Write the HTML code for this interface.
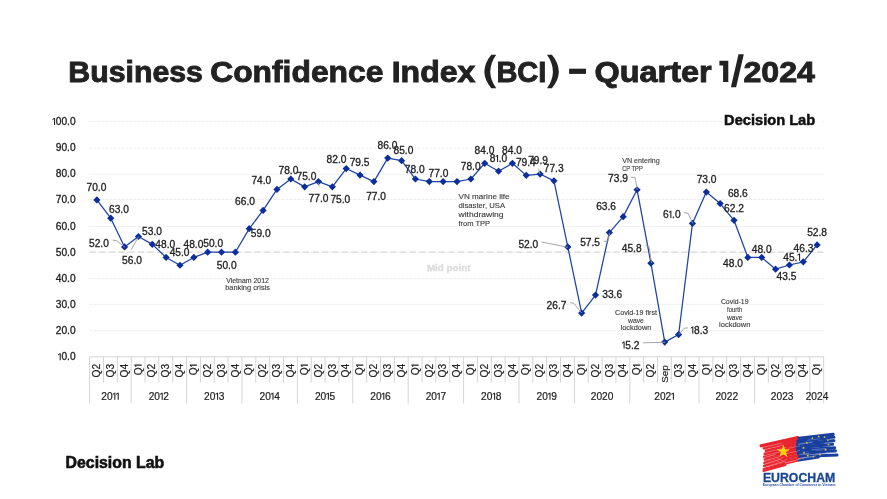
<!DOCTYPE html><html><head><meta charset="utf-8"><title>BCI</title>
<style>html,body{margin:0;padding:0;background:#fff}body{width:887px;height:499px;overflow:hidden}svg{display:block;will-change:transform}text{font-family:"Liberation Sans",sans-serif}</style></head><body>
<svg width="887" height="499" viewBox="0 0 887 499">
<rect width="887" height="499" fill="#fff"/>
<g font-size="29.5" font-weight="bold" fill="#222" stroke="#222" stroke-width="0.9">
<text x="68.3" y="81.6" textLength="134.6" lengthAdjust="spacingAndGlyphs">Business</text>
<text x="210.2" y="81.6" textLength="173.2" lengthAdjust="spacingAndGlyphs">Confidence</text>
<text x="391.7" y="81.6" textLength="83.7" lengthAdjust="spacingAndGlyphs">Index</text>
<text x="496.4" y="81.6" textLength="50.0" lengthAdjust="spacingAndGlyphs">BCI</text>
<text x="594.5" y="81.6" textLength="117.2" lengthAdjust="spacingAndGlyphs">Quarter</text>
<text x="743.4" y="81.6" textLength="71.6" lengthAdjust="spacingAndGlyphs">2024</text>
</g>
<path d="M496.2 54.7Q484.4 71.5 496.2 88.3L491.3 88.3Q477.5 71.5 491.3 54.7Z" fill="#222"/>
<path d="M547 54.7Q558.8 71.5 547 88.3L551.9 88.3Q565.7 71.5 551.9 54.7Z" fill="#222"/>
<rect x="569.1" y="68.7" width="16.9" height="5.2" fill="#222"/>
<path d="M719.4 60.8L728.3 60.8L728.3 82.1L723.1 82.1L723.1 65.5L719.4 65.5Z" fill="#222"/>
<path d="M738.5 54.2L743.8 54.2L736.1 87.2L730.9 87.2Z" fill="#222"/>
<g stroke="#ededed" stroke-width="1" stroke-dasharray="3 1" fill="none">
<line x1="89.6" y1="121.50" x2="824.2" y2="121.50"/>
<line x1="89.6" y1="148.20" x2="824.2" y2="148.20"/>
<line x1="89.6" y1="174.20" x2="824.2" y2="174.20"/>
<line x1="89.6" y1="199.50" x2="824.2" y2="199.50"/>
<line x1="89.6" y1="226.60" x2="824.2" y2="226.60"/>
<line x1="89.6" y1="278.60" x2="824.2" y2="278.60"/>
<line x1="89.6" y1="304.30" x2="824.2" y2="304.30"/>
<line x1="89.6" y1="330.80" x2="824.2" y2="330.80"/>
</g>
<line x1="89.6" y1="252.20" x2="824.2" y2="252.20" stroke="#ededed" stroke-width="1" stroke-dasharray="3 1"/>
<line x1="89.6" y1="252.10" x2="824.2" y2="252.10" stroke="#d0d0d0" stroke-width="1" stroke-dasharray="6 3.7"/>
<g stroke="#d4d4d4" stroke-width="1" fill="none">
<line x1="89.6" y1="356.8" x2="823.7" y2="356.8"/>
<line x1="89.60" y1="356.8" x2="89.60" y2="403.4"/>
<line x1="103.45" y1="356.8" x2="103.45" y2="382.6"/>
<line x1="117.30" y1="356.8" x2="117.30" y2="382.6"/>
<line x1="131.15" y1="356.8" x2="131.15" y2="403.4"/>
<line x1="145.00" y1="356.8" x2="145.00" y2="382.6"/>
<line x1="158.85" y1="356.8" x2="158.85" y2="382.6"/>
<line x1="172.71" y1="356.8" x2="172.71" y2="382.6"/>
<line x1="186.56" y1="356.8" x2="186.56" y2="403.4"/>
<line x1="200.41" y1="356.8" x2="200.41" y2="382.6"/>
<line x1="214.26" y1="356.8" x2="214.26" y2="382.6"/>
<line x1="228.11" y1="356.8" x2="228.11" y2="382.6"/>
<line x1="241.96" y1="356.8" x2="241.96" y2="403.4"/>
<line x1="255.81" y1="356.8" x2="255.81" y2="382.6"/>
<line x1="269.66" y1="356.8" x2="269.66" y2="382.6"/>
<line x1="283.51" y1="356.8" x2="283.51" y2="382.6"/>
<line x1="297.36" y1="356.8" x2="297.36" y2="403.4"/>
<line x1="311.22" y1="356.8" x2="311.22" y2="382.6"/>
<line x1="325.07" y1="356.8" x2="325.07" y2="382.6"/>
<line x1="338.92" y1="356.8" x2="338.92" y2="382.6"/>
<line x1="352.77" y1="356.8" x2="352.77" y2="403.4"/>
<line x1="366.62" y1="356.8" x2="366.62" y2="382.6"/>
<line x1="380.47" y1="356.8" x2="380.47" y2="382.6"/>
<line x1="394.32" y1="356.8" x2="394.32" y2="382.6"/>
<line x1="408.17" y1="356.8" x2="408.17" y2="403.4"/>
<line x1="422.02" y1="356.8" x2="422.02" y2="382.6"/>
<line x1="435.87" y1="356.8" x2="435.87" y2="382.6"/>
<line x1="449.72" y1="356.8" x2="449.72" y2="382.6"/>
<line x1="463.58" y1="356.8" x2="463.58" y2="403.4"/>
<line x1="477.43" y1="356.8" x2="477.43" y2="382.6"/>
<line x1="491.28" y1="356.8" x2="491.28" y2="382.6"/>
<line x1="505.13" y1="356.8" x2="505.13" y2="382.6"/>
<line x1="518.98" y1="356.8" x2="518.98" y2="403.4"/>
<line x1="532.83" y1="356.8" x2="532.83" y2="382.6"/>
<line x1="546.68" y1="356.8" x2="546.68" y2="382.6"/>
<line x1="560.53" y1="356.8" x2="560.53" y2="382.6"/>
<line x1="574.38" y1="356.8" x2="574.38" y2="403.4"/>
<line x1="588.23" y1="356.8" x2="588.23" y2="382.6"/>
<line x1="602.08" y1="356.8" x2="602.08" y2="382.6"/>
<line x1="615.94" y1="356.8" x2="615.94" y2="382.6"/>
<line x1="629.79" y1="356.8" x2="629.79" y2="403.4"/>
<line x1="643.64" y1="356.8" x2="643.64" y2="382.6"/>
<line x1="657.49" y1="356.8" x2="657.49" y2="382.6"/>
<line x1="671.34" y1="356.8" x2="671.34" y2="382.6"/>
<line x1="685.19" y1="356.8" x2="685.19" y2="382.6"/>
<line x1="699.04" y1="356.8" x2="699.04" y2="403.4"/>
<line x1="712.89" y1="356.8" x2="712.89" y2="382.6"/>
<line x1="726.74" y1="356.8" x2="726.74" y2="382.6"/>
<line x1="740.59" y1="356.8" x2="740.59" y2="382.6"/>
<line x1="754.45" y1="356.8" x2="754.45" y2="403.4"/>
<line x1="768.30" y1="356.8" x2="768.30" y2="382.6"/>
<line x1="782.15" y1="356.8" x2="782.15" y2="382.6"/>
<line x1="796.00" y1="356.8" x2="796.00" y2="382.6"/>
<line x1="809.85" y1="356.8" x2="809.85" y2="403.4"/>
<line x1="823.70" y1="356.8" x2="823.70" y2="403.4"/>
</g>
<g fill="#222" stroke="#222" stroke-width="0.3">
<path d="M52.54 119.08L54.07 117.88L55.09 117.88L55.09 125.05L54.02 125.05L54.02 119.08L52.54 120.15Z" stroke="none"/><text x="55.75" y="125.05" font-size="10.2" textLength="19.85" lengthAdjust="spacingAndGlyphs">00.0</text>
<text x="55.75" y="151.19" font-size="10.2" textLength="19.85" lengthAdjust="spacingAndGlyphs">90.0</text>
<text x="55.75" y="177.33" font-size="10.2" textLength="19.85" lengthAdjust="spacingAndGlyphs">80.0</text>
<text x="55.75" y="203.47" font-size="10.2" textLength="19.85" lengthAdjust="spacingAndGlyphs">70.0</text>
<text x="55.75" y="229.61" font-size="10.2" textLength="19.85" lengthAdjust="spacingAndGlyphs">60.0</text>
<text x="55.75" y="255.75" font-size="10.2" textLength="19.85" lengthAdjust="spacingAndGlyphs">50.0</text>
<text x="55.75" y="281.89" font-size="10.2" textLength="19.85" lengthAdjust="spacingAndGlyphs">40.0</text>
<text x="55.75" y="308.03" font-size="10.2" textLength="19.85" lengthAdjust="spacingAndGlyphs">30.0</text>
<text x="55.75" y="334.17" font-size="10.2" textLength="19.85" lengthAdjust="spacingAndGlyphs">20.0</text>
<path d="M58.21 354.34L59.74 353.14L60.76 353.14L60.76 360.31L59.69 360.31L59.69 354.34L58.21 355.41Z" stroke="none"/><text x="61.42" y="360.31" font-size="10.2" textLength="14.18" lengthAdjust="spacingAndGlyphs">0.0</text>
</g>
<g fill="#222" stroke="#222" stroke-width="0.2">
<g transform="translate(100.08,363.9) rotate(-90)"><text x="-13.61" y="0.00" font-size="10.2" textLength="13.61" lengthAdjust="spacingAndGlyphs">Q2</text></g>
<g transform="translate(113.93,363.9) rotate(-90)"><text x="-13.61" y="0.00" font-size="10.2" textLength="13.61" lengthAdjust="spacingAndGlyphs">Q3</text></g>
<g transform="translate(127.78,363.9) rotate(-90)"><text x="-13.61" y="0.00" font-size="10.2" textLength="13.61" lengthAdjust="spacingAndGlyphs">Q4</text></g>
<g transform="translate(141.63,363.9) rotate(-90)"><text x="-11.30" y="0.00" font-size="10.2" textLength="7.94" lengthAdjust="spacingAndGlyphs">Q</text><path d="M-3.21 -5.97L-1.68 -7.17L-0.66 -7.17L-0.66 0.00L-1.73 0.00L-1.73 -5.97L-3.21 -4.90Z" stroke="none"/></g>
<g transform="translate(155.48,363.9) rotate(-90)"><text x="-13.61" y="0.00" font-size="10.2" textLength="13.61" lengthAdjust="spacingAndGlyphs">Q2</text></g>
<g transform="translate(169.33,363.9) rotate(-90)"><text x="-13.61" y="0.00" font-size="10.2" textLength="13.61" lengthAdjust="spacingAndGlyphs">Q3</text></g>
<g transform="translate(183.18,363.9) rotate(-90)"><text x="-13.61" y="0.00" font-size="10.2" textLength="13.61" lengthAdjust="spacingAndGlyphs">Q4</text></g>
<g transform="translate(197.03,363.9) rotate(-90)"><text x="-11.30" y="0.00" font-size="10.2" textLength="7.94" lengthAdjust="spacingAndGlyphs">Q</text><path d="M-3.21 -5.97L-1.68 -7.17L-0.66 -7.17L-0.66 0.00L-1.73 0.00L-1.73 -5.97L-3.21 -4.90Z" stroke="none"/></g>
<g transform="translate(210.88,363.9) rotate(-90)"><text x="-13.61" y="0.00" font-size="10.2" textLength="13.61" lengthAdjust="spacingAndGlyphs">Q2</text></g>
<g transform="translate(224.73,363.9) rotate(-90)"><text x="-13.61" y="0.00" font-size="10.2" textLength="13.61" lengthAdjust="spacingAndGlyphs">Q3</text></g>
<g transform="translate(238.58,363.9) rotate(-90)"><text x="-13.61" y="0.00" font-size="10.2" textLength="13.61" lengthAdjust="spacingAndGlyphs">Q4</text></g>
<g transform="translate(252.44,363.9) rotate(-90)"><text x="-11.30" y="0.00" font-size="10.2" textLength="7.94" lengthAdjust="spacingAndGlyphs">Q</text><path d="M-3.21 -5.97L-1.68 -7.17L-0.66 -7.17L-0.66 0.00L-1.73 0.00L-1.73 -5.97L-3.21 -4.90Z" stroke="none"/></g>
<g transform="translate(266.29,363.9) rotate(-90)"><text x="-13.61" y="0.00" font-size="10.2" textLength="13.61" lengthAdjust="spacingAndGlyphs">Q2</text></g>
<g transform="translate(280.14,363.9) rotate(-90)"><text x="-13.61" y="0.00" font-size="10.2" textLength="13.61" lengthAdjust="spacingAndGlyphs">Q3</text></g>
<g transform="translate(293.99,363.9) rotate(-90)"><text x="-13.61" y="0.00" font-size="10.2" textLength="13.61" lengthAdjust="spacingAndGlyphs">Q4</text></g>
<g transform="translate(307.84,363.9) rotate(-90)"><text x="-11.30" y="0.00" font-size="10.2" textLength="7.94" lengthAdjust="spacingAndGlyphs">Q</text><path d="M-3.21 -5.97L-1.68 -7.17L-0.66 -7.17L-0.66 0.00L-1.73 0.00L-1.73 -5.97L-3.21 -4.90Z" stroke="none"/></g>
<g transform="translate(321.69,363.9) rotate(-90)"><text x="-13.61" y="0.00" font-size="10.2" textLength="13.61" lengthAdjust="spacingAndGlyphs">Q2</text></g>
<g transform="translate(335.54,363.9) rotate(-90)"><text x="-13.61" y="0.00" font-size="10.2" textLength="13.61" lengthAdjust="spacingAndGlyphs">Q3</text></g>
<g transform="translate(349.39,363.9) rotate(-90)"><text x="-13.61" y="0.00" font-size="10.2" textLength="13.61" lengthAdjust="spacingAndGlyphs">Q4</text></g>
<g transform="translate(363.24,363.9) rotate(-90)"><text x="-11.30" y="0.00" font-size="10.2" textLength="7.94" lengthAdjust="spacingAndGlyphs">Q</text><path d="M-3.21 -5.97L-1.68 -7.17L-0.66 -7.17L-0.66 0.00L-1.73 0.00L-1.73 -5.97L-3.21 -4.90Z" stroke="none"/></g>
<g transform="translate(377.09,363.9) rotate(-90)"><text x="-13.61" y="0.00" font-size="10.2" textLength="13.61" lengthAdjust="spacingAndGlyphs">Q2</text></g>
<g transform="translate(390.95,363.9) rotate(-90)"><text x="-13.61" y="0.00" font-size="10.2" textLength="13.61" lengthAdjust="spacingAndGlyphs">Q3</text></g>
<g transform="translate(404.80,363.9) rotate(-90)"><text x="-13.61" y="0.00" font-size="10.2" textLength="13.61" lengthAdjust="spacingAndGlyphs">Q4</text></g>
<g transform="translate(418.65,363.9) rotate(-90)"><text x="-11.30" y="0.00" font-size="10.2" textLength="7.94" lengthAdjust="spacingAndGlyphs">Q</text><path d="M-3.21 -5.97L-1.68 -7.17L-0.66 -7.17L-0.66 0.00L-1.73 0.00L-1.73 -5.97L-3.21 -4.90Z" stroke="none"/></g>
<g transform="translate(432.50,363.9) rotate(-90)"><text x="-13.61" y="0.00" font-size="10.2" textLength="13.61" lengthAdjust="spacingAndGlyphs">Q2</text></g>
<g transform="translate(446.35,363.9) rotate(-90)"><text x="-13.61" y="0.00" font-size="10.2" textLength="13.61" lengthAdjust="spacingAndGlyphs">Q3</text></g>
<g transform="translate(460.20,363.9) rotate(-90)"><text x="-13.61" y="0.00" font-size="10.2" textLength="13.61" lengthAdjust="spacingAndGlyphs">Q4</text></g>
<g transform="translate(474.05,363.9) rotate(-90)"><text x="-11.30" y="0.00" font-size="10.2" textLength="7.94" lengthAdjust="spacingAndGlyphs">Q</text><path d="M-3.21 -5.97L-1.68 -7.17L-0.66 -7.17L-0.66 0.00L-1.73 0.00L-1.73 -5.97L-3.21 -4.90Z" stroke="none"/></g>
<g transform="translate(487.90,363.9) rotate(-90)"><text x="-13.61" y="0.00" font-size="10.2" textLength="13.61" lengthAdjust="spacingAndGlyphs">Q2</text></g>
<g transform="translate(501.75,363.9) rotate(-90)"><text x="-13.61" y="0.00" font-size="10.2" textLength="13.61" lengthAdjust="spacingAndGlyphs">Q3</text></g>
<g transform="translate(515.60,363.9) rotate(-90)"><text x="-13.61" y="0.00" font-size="10.2" textLength="13.61" lengthAdjust="spacingAndGlyphs">Q4</text></g>
<g transform="translate(529.45,363.9) rotate(-90)"><text x="-11.30" y="0.00" font-size="10.2" textLength="7.94" lengthAdjust="spacingAndGlyphs">Q</text><path d="M-3.21 -5.97L-1.68 -7.17L-0.66 -7.17L-0.66 0.00L-1.73 0.00L-1.73 -5.97L-3.21 -4.90Z" stroke="none"/></g>
<g transform="translate(543.31,363.9) rotate(-90)"><text x="-13.61" y="0.00" font-size="10.2" textLength="13.61" lengthAdjust="spacingAndGlyphs">Q2</text></g>
<g transform="translate(557.16,363.9) rotate(-90)"><text x="-13.61" y="0.00" font-size="10.2" textLength="13.61" lengthAdjust="spacingAndGlyphs">Q3</text></g>
<g transform="translate(571.01,363.9) rotate(-90)"><text x="-13.61" y="0.00" font-size="10.2" textLength="13.61" lengthAdjust="spacingAndGlyphs">Q4</text></g>
<g transform="translate(584.86,363.9) rotate(-90)"><text x="-11.30" y="0.00" font-size="10.2" textLength="7.94" lengthAdjust="spacingAndGlyphs">Q</text><path d="M-3.21 -5.97L-1.68 -7.17L-0.66 -7.17L-0.66 0.00L-1.73 0.00L-1.73 -5.97L-3.21 -4.90Z" stroke="none"/></g>
<g transform="translate(598.71,363.9) rotate(-90)"><text x="-13.61" y="0.00" font-size="10.2" textLength="13.61" lengthAdjust="spacingAndGlyphs">Q2</text></g>
<g transform="translate(612.56,363.9) rotate(-90)"><text x="-13.61" y="0.00" font-size="10.2" textLength="13.61" lengthAdjust="spacingAndGlyphs">Q3</text></g>
<g transform="translate(626.41,363.9) rotate(-90)"><text x="-13.61" y="0.00" font-size="10.2" textLength="13.61" lengthAdjust="spacingAndGlyphs">Q4</text></g>
<g transform="translate(640.26,363.9) rotate(-90)"><text x="-11.30" y="0.00" font-size="10.2" textLength="7.94" lengthAdjust="spacingAndGlyphs">Q</text><path d="M-3.21 -5.97L-1.68 -7.17L-0.66 -7.17L-0.66 0.00L-1.73 0.00L-1.73 -5.97L-3.21 -4.90Z" stroke="none"/></g>
<g transform="translate(654.11,363.9) rotate(-90)"><text x="-13.61" y="0.00" font-size="10.2" textLength="13.61" lengthAdjust="spacingAndGlyphs">Q2</text></g>
<g transform="translate(667.96,365.2) rotate(-90)"><text x="-17.61" y="0.00" font-size="9.9" textLength="17.61" lengthAdjust="spacingAndGlyphs">Sep</text></g>
<g transform="translate(681.82,363.9) rotate(-90)"><text x="-13.61" y="0.00" font-size="10.2" textLength="13.61" lengthAdjust="spacingAndGlyphs">Q3</text></g>
<g transform="translate(695.67,363.9) rotate(-90)"><text x="-13.61" y="0.00" font-size="10.2" textLength="13.61" lengthAdjust="spacingAndGlyphs">Q4</text></g>
<g transform="translate(709.52,363.9) rotate(-90)"><text x="-11.30" y="0.00" font-size="10.2" textLength="7.94" lengthAdjust="spacingAndGlyphs">Q</text><path d="M-3.21 -5.97L-1.68 -7.17L-0.66 -7.17L-0.66 0.00L-1.73 0.00L-1.73 -5.97L-3.21 -4.90Z" stroke="none"/></g>
<g transform="translate(723.37,363.9) rotate(-90)"><text x="-13.61" y="0.00" font-size="10.2" textLength="13.61" lengthAdjust="spacingAndGlyphs">Q2</text></g>
<g transform="translate(737.22,363.9) rotate(-90)"><text x="-13.61" y="0.00" font-size="10.2" textLength="13.61" lengthAdjust="spacingAndGlyphs">Q3</text></g>
<g transform="translate(751.07,363.9) rotate(-90)"><text x="-13.61" y="0.00" font-size="10.2" textLength="13.61" lengthAdjust="spacingAndGlyphs">Q4</text></g>
<g transform="translate(764.92,363.9) rotate(-90)"><text x="-11.30" y="0.00" font-size="10.2" textLength="7.94" lengthAdjust="spacingAndGlyphs">Q</text><path d="M-3.21 -5.97L-1.68 -7.17L-0.66 -7.17L-0.66 0.00L-1.73 0.00L-1.73 -5.97L-3.21 -4.90Z" stroke="none"/></g>
<g transform="translate(778.77,363.9) rotate(-90)"><text x="-13.61" y="0.00" font-size="10.2" textLength="13.61" lengthAdjust="spacingAndGlyphs">Q2</text></g>
<g transform="translate(792.62,363.9) rotate(-90)"><text x="-13.61" y="0.00" font-size="10.2" textLength="13.61" lengthAdjust="spacingAndGlyphs">Q3</text></g>
<g transform="translate(806.47,363.9) rotate(-90)"><text x="-13.61" y="0.00" font-size="10.2" textLength="13.61" lengthAdjust="spacingAndGlyphs">Q4</text></g>
<g transform="translate(820.32,363.9) rotate(-90)"><text x="-11.30" y="0.00" font-size="10.2" textLength="7.94" lengthAdjust="spacingAndGlyphs">Q</text><path d="M-3.21 -5.97L-1.68 -7.17L-0.66 -7.17L-0.66 0.00L-1.73 0.00L-1.73 -5.97L-3.21 -4.90Z" stroke="none"/></g>
</g>
<g fill="#222" stroke="#222" stroke-width="0.2">
<text x="101.34" y="399.80" font-size="10.2" textLength="11.34" lengthAdjust="spacingAndGlyphs">20</text><path d="M112.83 393.83L114.36 392.63L115.38 392.63L115.38 399.80L114.31 399.80L114.31 393.83L112.83 394.90Z" stroke="none"/><path d="M116.20 393.83L117.73 392.63L118.75 392.63L118.75 399.80L117.68 399.80L117.68 393.83L116.20 394.90Z" stroke="none"/>
<text x="148.66" y="399.80" font-size="10.2" textLength="11.34" lengthAdjust="spacingAndGlyphs">20</text><path d="M160.16 393.83L161.69 392.63L162.71 392.63L162.71 399.80L161.64 399.80L161.64 393.83L160.16 394.90Z" stroke="none"/><text x="163.37" y="399.80" font-size="10.2" textLength="5.67" lengthAdjust="spacingAndGlyphs">2</text>
<text x="204.07" y="399.80" font-size="10.2" textLength="11.34" lengthAdjust="spacingAndGlyphs">20</text><path d="M215.56 393.83L217.09 392.63L218.11 392.63L218.11 399.80L217.04 399.80L217.04 393.83L215.56 394.90Z" stroke="none"/><text x="218.78" y="399.80" font-size="10.2" textLength="5.67" lengthAdjust="spacingAndGlyphs">3</text>
<text x="259.47" y="399.80" font-size="10.2" textLength="11.34" lengthAdjust="spacingAndGlyphs">20</text><path d="M270.97 393.83L272.50 392.63L273.52 392.63L273.52 399.80L272.45 399.80L272.45 393.83L270.97 394.90Z" stroke="none"/><text x="274.18" y="399.80" font-size="10.2" textLength="5.67" lengthAdjust="spacingAndGlyphs">4</text>
<text x="314.88" y="399.80" font-size="10.2" textLength="11.34" lengthAdjust="spacingAndGlyphs">20</text><path d="M326.37 393.83L327.90 392.63L328.92 392.63L328.92 399.80L327.85 399.80L327.85 393.83L326.37 394.90Z" stroke="none"/><text x="329.58" y="399.80" font-size="10.2" textLength="5.67" lengthAdjust="spacingAndGlyphs">5</text>
<text x="370.28" y="399.80" font-size="10.2" textLength="11.34" lengthAdjust="spacingAndGlyphs">20</text><path d="M381.78 393.83L383.31 392.63L384.33 392.63L384.33 399.80L383.25 399.80L383.25 393.83L381.78 394.90Z" stroke="none"/><text x="384.99" y="399.80" font-size="10.2" textLength="5.67" lengthAdjust="spacingAndGlyphs">6</text>
<text x="425.68" y="399.80" font-size="10.2" textLength="11.34" lengthAdjust="spacingAndGlyphs">20</text><path d="M437.18 393.83L438.71 392.63L439.73 392.63L439.73 399.80L438.66 399.80L438.66 393.83L437.18 394.90Z" stroke="none"/><text x="440.39" y="399.80" font-size="10.2" textLength="5.67" lengthAdjust="spacingAndGlyphs">7</text>
<text x="481.09" y="399.80" font-size="10.2" textLength="11.34" lengthAdjust="spacingAndGlyphs">20</text><path d="M492.58 393.83L494.11 392.63L495.13 392.63L495.13 399.80L494.06 399.80L494.06 393.83L492.58 394.90Z" stroke="none"/><text x="495.80" y="399.80" font-size="10.2" textLength="5.67" lengthAdjust="spacingAndGlyphs">8</text>
<text x="536.49" y="399.80" font-size="10.2" textLength="11.34" lengthAdjust="spacingAndGlyphs">20</text><path d="M547.99 393.83L549.52 392.63L550.54 392.63L550.54 399.80L549.47 399.80L549.47 393.83L547.99 394.90Z" stroke="none"/><text x="551.20" y="399.80" font-size="10.2" textLength="5.67" lengthAdjust="spacingAndGlyphs">9</text>
<text x="590.74" y="399.80" font-size="10.2" textLength="22.68" lengthAdjust="spacingAndGlyphs">2020</text>
<text x="654.22" y="399.80" font-size="10.2" textLength="17.01" lengthAdjust="spacingAndGlyphs">202</text><path d="M671.39 393.83L672.92 392.63L673.94 392.63L673.94 399.80L672.87 399.80L672.87 393.83L671.39 394.90Z" stroke="none"/>
<text x="715.40" y="399.80" font-size="10.2" textLength="22.68" lengthAdjust="spacingAndGlyphs">2022</text>
<text x="770.80" y="399.80" font-size="10.2" textLength="22.68" lengthAdjust="spacingAndGlyphs">2023</text>
<text x="805.63" y="399.80" font-size="10.2" textLength="22.68" lengthAdjust="spacingAndGlyphs">2024</text>
</g>
<text x="426.9" y="270.6" font-size="9" font-weight="bold" fill="#dcdcdc" stroke="#dcdcdc" stroke-width="0.3" textLength="43.7" lengthAdjust="spacingAndGlyphs">Mid point</text>
<polyline points="96.88,199.92 110.73,218.22 124.58,246.97 138.43,236.52 152.28,244.36 166.13,257.43 179.98,265.27 193.83,257.43 207.68,252.20 221.53,252.20 235.38,252.20 249.24,228.67 263.09,210.38 276.94,189.46 290.79,179.01 304.64,186.85 318.49,181.62 332.34,186.85 346.19,168.55 360.04,175.09 373.89,181.62 387.75,158.10 401.60,160.71 415.45,179.01 429.30,181.62 443.15,181.62 457.00,181.62 470.85,179.01 484.70,163.32 498.55,171.17 512.40,163.32 526.25,175.35 540.11,174.04 553.96,180.84 567.81,246.97 581.66,313.11 595.51,295.07 609.36,232.59 623.21,216.65 637.06,189.73 650.91,263.18 664.76,342.12 678.62,334.54 692.47,223.45 706.32,192.08 720.17,203.58 734.02,220.31 747.87,257.43 761.72,257.43 775.57,269.19 789.42,265.01 803.27,261.87 817.12,244.88" fill="none" stroke="#1d42a8" stroke-width="1.25" stroke-linejoin="round"/>
<g fill="#0b2e9c">
<path d="M96.88 196.32L100.48 199.92L96.88 203.52L93.28 199.92Z"/>
<path d="M110.73 214.62L114.33 218.22L110.73 221.82L107.13 218.22Z"/>
<path d="M124.58 243.37L128.18 246.97L124.58 250.57L120.98 246.97Z"/>
<path d="M138.43 232.92L142.03 236.52L138.43 240.12L134.83 236.52Z"/>
<path d="M152.28 240.76L155.88 244.36L152.28 247.96L148.68 244.36Z"/>
<path d="M166.13 253.83L169.73 257.43L166.13 261.03L162.53 257.43Z"/>
<path d="M179.98 261.67L183.58 265.27L179.98 268.87L176.38 265.27Z"/>
<path d="M193.83 253.83L197.43 257.43L193.83 261.03L190.23 257.43Z"/>
<path d="M207.68 248.60L211.28 252.20L207.68 255.80L204.08 252.20Z"/>
<path d="M221.53 248.60L225.13 252.20L221.53 255.80L217.93 252.20Z"/>
<path d="M235.38 248.60L238.98 252.20L235.38 255.80L231.78 252.20Z"/>
<path d="M249.24 225.07L252.84 228.67L249.24 232.27L245.64 228.67Z"/>
<path d="M263.09 206.78L266.69 210.38L263.09 213.98L259.49 210.38Z"/>
<path d="M276.94 185.86L280.54 189.46L276.94 193.06L273.34 189.46Z"/>
<path d="M290.79 175.41L294.39 179.01L290.79 182.61L287.19 179.01Z"/>
<path d="M304.64 183.25L308.24 186.85L304.64 190.45L301.04 186.85Z"/>
<path d="M318.49 178.02L322.09 181.62L318.49 185.22L314.89 181.62Z"/>
<path d="M332.34 183.25L335.94 186.85L332.34 190.45L328.74 186.85Z"/>
<path d="M346.19 164.95L349.79 168.55L346.19 172.15L342.59 168.55Z"/>
<path d="M360.04 171.49L363.64 175.09L360.04 178.69L356.44 175.09Z"/>
<path d="M373.89 178.02L377.49 181.62L373.89 185.22L370.29 181.62Z"/>
<path d="M387.75 154.50L391.35 158.10L387.75 161.70L384.15 158.10Z"/>
<path d="M401.60 157.11L405.20 160.71L401.60 164.31L398.00 160.71Z"/>
<path d="M415.45 175.41L419.05 179.01L415.45 182.61L411.85 179.01Z"/>
<path d="M429.30 178.02L432.90 181.62L429.30 185.22L425.70 181.62Z"/>
<path d="M443.15 178.02L446.75 181.62L443.15 185.22L439.55 181.62Z"/>
<path d="M457.00 178.02L460.60 181.62L457.00 185.22L453.40 181.62Z"/>
<path d="M470.85 175.41L474.45 179.01L470.85 182.61L467.25 179.01Z"/>
<path d="M484.70 159.72L488.30 163.32L484.70 166.92L481.10 163.32Z"/>
<path d="M498.55 167.57L502.15 171.17L498.55 174.77L494.95 171.17Z"/>
<path d="M512.40 159.72L516.00 163.32L512.40 166.92L508.80 163.32Z"/>
<path d="M526.25 171.75L529.85 175.35L526.25 178.95L522.65 175.35Z"/>
<path d="M540.11 170.44L543.71 174.04L540.11 177.64L536.51 174.04Z"/>
<path d="M553.96 177.24L557.56 180.84L553.96 184.44L550.36 180.84Z"/>
<path d="M567.81 243.37L571.41 246.97L567.81 250.57L564.21 246.97Z"/>
<path d="M581.66 309.51L585.26 313.11L581.66 316.71L578.06 313.11Z"/>
<path d="M595.51 291.47L599.11 295.07L595.51 298.67L591.91 295.07Z"/>
<path d="M609.36 229.00L612.96 232.59L609.36 236.19L605.76 232.59Z"/>
<path d="M623.21 213.05L626.81 216.65L623.21 220.25L619.61 216.65Z"/>
<path d="M637.06 186.13L640.66 189.73L637.06 193.33L633.46 189.73Z"/>
<path d="M650.91 259.58L654.51 263.18L650.91 266.78L647.31 263.18Z"/>
<path d="M664.76 338.52L668.36 342.12L664.76 345.72L661.16 342.12Z"/>
<path d="M678.62 330.94L682.22 334.54L678.62 338.14L675.02 334.54Z"/>
<path d="M692.47 219.85L696.07 223.45L692.47 227.05L688.87 223.45Z"/>
<path d="M706.32 188.48L709.92 192.08L706.32 195.68L702.72 192.08Z"/>
<path d="M720.17 199.98L723.77 203.58L720.17 207.18L716.57 203.58Z"/>
<path d="M734.02 216.71L737.62 220.31L734.02 223.91L730.42 220.31Z"/>
<path d="M747.87 253.83L751.47 257.43L747.87 261.03L744.27 257.43Z"/>
<path d="M761.72 253.83L765.32 257.43L761.72 261.03L758.12 257.43Z"/>
<path d="M775.57 265.59L779.17 269.19L775.57 272.79L771.97 269.19Z"/>
<path d="M789.42 261.41L793.02 265.01L789.42 268.61L785.82 265.01Z"/>
<path d="M803.27 258.27L806.87 261.87L803.27 265.47L799.67 261.87Z"/>
<path d="M817.12 241.28L820.72 244.88L817.12 248.48L813.52 244.88Z"/>
</g>
<g stroke="#9c9c9c" stroke-width="0.9" fill="none">
<polyline points="112.7,240.1 116.5,240.6 124.7,247.1"/>
<polyline points="138.5,236.6 131.3,249.5"/>
<polyline points="541.6,242.0 567.9,247.3"/>
<polyline points="631.0,177.3 635.0,177.4 636.8,186.5 637.1,189.8"/>
<polyline points="603.9,241.5 608.2,240.8 609.4,232.8"/>
<polyline points="684.1,212.7 687.9,213.2 692.9,223.5"/>
<polyline points="645.8,245.6 649,246.3 651.5,263.1"/>
<polyline points="570.1,302.7 573.8,303.2 581.6,313"/>
<polyline points="642.8,342.8 665.3,342.3"/>
<polyline points="679.1,334.5 684.1,328.3 687.9,327.8"/>
<polyline points="318.2,182.5 319.2,186.5"/>
<polyline points="538.5,168.9 539.9,174.2"/>
</g>
<g fill="#222" stroke="#222" stroke-width="0.3">
<text x="86.48" y="190.70" font-size="10.2" textLength="19.85" lengthAdjust="spacingAndGlyphs">70.0</text>
<text x="108.98" y="212.60" font-size="10.2" textLength="19.85" lengthAdjust="spacingAndGlyphs">63.0</text>
<text x="88.98" y="246.70" font-size="10.2" textLength="19.85" lengthAdjust="spacingAndGlyphs">52.0</text>
<text x="122.08" y="264.20" font-size="10.2" textLength="19.85" lengthAdjust="spacingAndGlyphs">56.0</text>
<text x="142.08" y="235.40" font-size="10.2" textLength="19.85" lengthAdjust="spacingAndGlyphs">53.0</text>
<text x="155.38" y="248.40" font-size="10.2" textLength="19.85" lengthAdjust="spacingAndGlyphs">48.0</text>
<text x="169.68" y="256.40" font-size="10.2" textLength="19.85" lengthAdjust="spacingAndGlyphs">45.0</text>
<text x="183.48" y="248.40" font-size="10.2" textLength="19.85" lengthAdjust="spacingAndGlyphs">48.0</text>
<text x="203.28" y="247.40" font-size="10.2" textLength="19.85" lengthAdjust="spacingAndGlyphs">50.0</text>
<text x="216.78" y="268.50" font-size="10.2" textLength="19.85" lengthAdjust="spacingAndGlyphs">50.0</text>
<text x="250.78" y="237.30" font-size="10.2" textLength="19.85" lengthAdjust="spacingAndGlyphs">59.0</text>
<text x="235.08" y="204.70" font-size="10.2" textLength="19.85" lengthAdjust="spacingAndGlyphs">66.0</text>
<text x="251.38" y="184.30" font-size="10.2" textLength="19.85" lengthAdjust="spacingAndGlyphs">74.0</text>
<text x="278.48" y="173.70" font-size="10.2" textLength="19.85" lengthAdjust="spacingAndGlyphs">78.0</text>
<text x="296.48" y="180.40" font-size="10.2" textLength="19.85" lengthAdjust="spacingAndGlyphs">75.0</text>
<text x="308.58" y="201.70" font-size="10.2" textLength="19.85" lengthAdjust="spacingAndGlyphs">77.0</text>
<text x="330.38" y="202.50" font-size="10.2" textLength="19.85" lengthAdjust="spacingAndGlyphs">75.0</text>
<text x="326.58" y="162.90" font-size="10.2" textLength="19.85" lengthAdjust="spacingAndGlyphs">82.0</text>
<text x="349.68" y="166.20" font-size="10.2" textLength="19.85" lengthAdjust="spacingAndGlyphs">79.5</text>
<text x="366.18" y="199.70" font-size="10.2" textLength="19.85" lengthAdjust="spacingAndGlyphs">77.0</text>
<text x="377.48" y="149.10" font-size="10.2" textLength="19.85" lengthAdjust="spacingAndGlyphs">86.0</text>
<text x="393.48" y="154.10" font-size="10.2" textLength="19.85" lengthAdjust="spacingAndGlyphs">85.0</text>
<text x="404.78" y="173.40" font-size="10.2" textLength="19.85" lengthAdjust="spacingAndGlyphs">78.0</text>
<text x="428.48" y="176.70" font-size="10.2" textLength="19.85" lengthAdjust="spacingAndGlyphs">77.0</text>
<text x="460.78" y="170.40" font-size="10.2" textLength="19.85" lengthAdjust="spacingAndGlyphs">78.0</text>
<text x="474.58" y="154.10" font-size="10.2" textLength="19.85" lengthAdjust="spacingAndGlyphs">84.0</text>
<text x="489.73" y="162.10" font-size="10.2" textLength="5.67" lengthAdjust="spacingAndGlyphs">8</text><path d="M495.55 156.13L497.08 154.93L498.10 154.93L498.10 162.10L497.03 162.10L497.03 156.13L495.55 157.20Z" stroke="none"/><text x="498.77" y="162.10" font-size="10.2" textLength="8.51" lengthAdjust="spacingAndGlyphs">.0</text>
<text x="502.08" y="154.10" font-size="10.2" textLength="19.85" lengthAdjust="spacingAndGlyphs">84.0</text>
<text x="515.88" y="166.20" font-size="10.2" textLength="19.85" lengthAdjust="spacingAndGlyphs">79.4</text>
<text x="528.18" y="164.10" font-size="10.2" textLength="19.85" lengthAdjust="spacingAndGlyphs">79.9</text>
<text x="543.78" y="172.20" font-size="10.2" textLength="19.85" lengthAdjust="spacingAndGlyphs">77.3</text>
<text x="518.38" y="248.10" font-size="10.2" textLength="19.85" lengthAdjust="spacingAndGlyphs">52.0</text>
<text x="546.58" y="308.50" font-size="10.2" textLength="19.85" lengthAdjust="spacingAndGlyphs">26.7</text>
<text x="602.28" y="298.00" font-size="10.2" textLength="19.85" lengthAdjust="spacingAndGlyphs">33.6</text>
<text x="580.18" y="246.20" font-size="10.2" textLength="19.85" lengthAdjust="spacingAndGlyphs">57.5</text>
<text x="596.18" y="209.80" font-size="10.2" textLength="19.85" lengthAdjust="spacingAndGlyphs">63.6</text>
<text x="608.08" y="182.40" font-size="10.2" textLength="19.85" lengthAdjust="spacingAndGlyphs">73.9</text>
<text x="621.78" y="251.60" font-size="10.2" textLength="19.85" lengthAdjust="spacingAndGlyphs">45.8</text>
<path d="M622.08 342.63L623.61 341.43L624.63 341.43L624.63 348.60L623.56 348.60L623.56 342.63L622.08 343.70Z" stroke="none"/><text x="625.29" y="348.60" font-size="10.2" textLength="14.18" lengthAdjust="spacingAndGlyphs">5.2</text>
<path d="M690.78 327.63L692.31 326.43L693.33 326.43L693.33 333.60L692.26 333.60L692.26 327.63L690.78 328.70Z" stroke="none"/><text x="693.99" y="333.60" font-size="10.2" textLength="14.18" lengthAdjust="spacingAndGlyphs">8.3</text>
<text x="663.03" y="218.00" font-size="10.2" textLength="5.67" lengthAdjust="spacingAndGlyphs">6</text><path d="M668.85 212.03L670.38 210.83L671.40 210.83L671.40 218.00L670.33 218.00L670.33 212.03L668.85 213.10Z" stroke="none"/><text x="672.07" y="218.00" font-size="10.2" textLength="8.51" lengthAdjust="spacingAndGlyphs">.0</text>
<text x="696.68" y="183.20" font-size="10.2" textLength="19.85" lengthAdjust="spacingAndGlyphs">73.0</text>
<text x="727.88" y="196.70" font-size="10.2" textLength="19.85" lengthAdjust="spacingAndGlyphs">68.6</text>
<text x="724.08" y="211.70" font-size="10.2" textLength="19.85" lengthAdjust="spacingAndGlyphs">62.2</text>
<text x="723.08" y="267.40" font-size="10.2" textLength="19.85" lengthAdjust="spacingAndGlyphs">48.0</text>
<text x="751.78" y="252.60" font-size="10.2" textLength="19.85" lengthAdjust="spacingAndGlyphs">48.0</text>
<text x="776.58" y="279.60" font-size="10.2" textLength="19.85" lengthAdjust="spacingAndGlyphs">43.5</text>
<text x="783.23" y="260.70" font-size="10.2" textLength="14.18" lengthAdjust="spacingAndGlyphs">45.</text><path d="M797.56 254.73L799.09 253.53L800.11 253.53L800.11 260.70L799.04 260.70L799.04 254.73L797.56 255.80Z" stroke="none"/>
<text x="793.58" y="252.00" font-size="10.2" textLength="19.85" lengthAdjust="spacingAndGlyphs">46.3</text>
<text x="807.18" y="235.50" font-size="10.2" textLength="19.85" lengthAdjust="spacingAndGlyphs">52.8</text>
</g>
<g font-size="6.9" fill="#3c3c3c" stroke="#3c3c3c" stroke-width="0.12">
<text x="226.20" y="283.2" textLength="42.8" lengthAdjust="spacingAndGlyphs">Vietnam 2012</text>
<text x="225.20" y="290.3" textLength="44.8" lengthAdjust="spacingAndGlyphs">banking crisis</text>
</g>
<g font-size="7.2" fill="#3c3c3c" stroke="#3c3c3c" stroke-width="0.12">
<text x="458.50" y="199.3" textLength="51.1" lengthAdjust="spacingAndGlyphs">VN marine life</text>
<text x="458.50" y="208.2" textLength="46.6" lengthAdjust="spacingAndGlyphs">disaster, USA</text>
<text x="458.50" y="217.1" textLength="45.1" lengthAdjust="spacingAndGlyphs">withdrawing</text>
<text x="458.50" y="225.9" textLength="31.6" lengthAdjust="spacingAndGlyphs">from TPP</text>
</g>
<g font-size="6.9" fill="#3c3c3c" stroke="#3c3c3c" stroke-width="0.12">
<text x="622.20" y="163.1" textLength="37.6" lengthAdjust="spacingAndGlyphs">VN entering</text>
<text x="622.20" y="170.6" textLength="20.6" lengthAdjust="spacingAndGlyphs">CP TPP</text>
</g>
<g font-size="6.9" fill="#3c3c3c" stroke="#3c3c3c" stroke-width="0.12">
<text x="615.05" y="315.2" textLength="41.9" lengthAdjust="spacingAndGlyphs">Covid-19 first</text>
<text x="628.10" y="322.6" textLength="15.8" lengthAdjust="spacingAndGlyphs">wave</text>
<text x="620.60" y="329.8" textLength="30.8" lengthAdjust="spacingAndGlyphs">lockdown</text>
</g>
<g font-size="6.9" fill="#3c3c3c" stroke="#3c3c3c" stroke-width="0.12">
<text x="720.90" y="304.4" textLength="27.6" lengthAdjust="spacingAndGlyphs">Covid-19</text>
<text x="727.10" y="312.1" textLength="15.2" lengthAdjust="spacingAndGlyphs">fourth</text>
<text x="726.90" y="319.6" textLength="15.6" lengthAdjust="spacingAndGlyphs">wave</text>
<text x="719.05" y="327" textLength="31.3" lengthAdjust="spacingAndGlyphs">lockdown</text>
</g>
<rect x="721.3" y="110" width="100.2" height="20" fill="#fff"/>
<text x="724.1" y="124.9" font-size="14.2" font-weight="bold" fill="#111" stroke="#111" stroke-width="0.5" textLength="91.1" lengthAdjust="spacingAndGlyphs">Decision Lab</text>
<text x="65.6" y="467.5" font-size="16.2" font-weight="bold" fill="#111" stroke="#111" stroke-width="0.6" textLength="98.6" lengthAdjust="spacingAndGlyphs">Decision Lab</text>
<g id="logo" stroke-linecap="round" fill="none">
<line x1="761.09" y1="445.76" x2="797.61" y2="437.64" stroke="#e8242e" stroke-width="3.2"/>
<line x1="764.13" y1="447.99" x2="798.12" y2="440.38" stroke="#e8242e" stroke-width="3.4"/>
<line x1="766.36" y1="450.93" x2="798.63" y2="443.22" stroke="#e8242e" stroke-width="3.4"/>
<line x1="765.15" y1="453.97" x2="799.14" y2="446.26" stroke="#e8242e" stroke-width="3.4"/>
<line x1="764.64" y1="457.02" x2="799.64" y2="449.00" stroke="#e8242e" stroke-width="3.4"/>
<line x1="765.15" y1="460.06" x2="800.15" y2="451.94" stroke="#e8242e" stroke-width="3.2"/>
<line x1="764.64" y1="463.11" x2="800.66" y2="454.68" stroke="#e8242e" stroke-width="3.0"/>
<line x1="764.33" y1="465.95" x2="801.16" y2="457.53" stroke="#e8242e" stroke-width="2.8"/>
<line x1="763.73" y1="468.79" x2="798.12" y2="460.26" stroke="#e8242e" stroke-width="2.4"/>
<line x1="763.52" y1="471.02" x2="785.44" y2="464.93" stroke="#e8242e" stroke-width="2.0"/>
<line x1="798.83" y1="438.35" x2="833.12" y2="434.29" stroke="#163f9f" stroke-width="3.2"/>
<line x1="798.12" y1="441.39" x2="833.63" y2="437.33" stroke="#163f9f" stroke-width="3.6"/>
<line x1="797.61" y1="444.44" x2="833.63" y2="440.78" stroke="#163f9f" stroke-width="3.6"/>
<line x1="797.11" y1="447.48" x2="832.31" y2="444.23" stroke="#163f9f" stroke-width="3.6"/>
<line x1="797.61" y1="450.52" x2="834.34" y2="447.68" stroke="#163f9f" stroke-width="3.6"/>
<line x1="798.63" y1="453.57" x2="835.36" y2="450.93" stroke="#163f9f" stroke-width="3.4"/>
<line x1="799.64" y1="456.61" x2="836.98" y2="454.99" stroke="#163f9f" stroke-width="3.0"/>
<line x1="798.83" y1="460.26" x2="818.41" y2="457.42" stroke="#163f9f" stroke-width="2.4"/>
<line x1="761.09" y1="458.44" x2="775.29" y2="454.58" stroke="#fff" stroke-opacity="0.65" stroke-width="0.5"/>
<line x1="762.10" y1="461.48" x2="778.34" y2="456.92" stroke="#fff" stroke-opacity="0.65" stroke-width="0.5"/>
<line x1="762.61" y1="464.73" x2="781.38" y2="458.95" stroke="#fff" stroke-opacity="0.65" stroke-width="0.6"/>
<line x1="763.12" y1="467.77" x2="785.44" y2="460.97" stroke="#fff" stroke-opacity="0.65" stroke-width="0.6"/>
<line x1="785.44" y1="463.00" x2="800.66" y2="458.95" stroke="#fff" stroke-opacity="0.65" stroke-width="0.6"/>
<line x1="798.63" y1="444.23" x2="811.82" y2="442.41" stroke="#fff" stroke-opacity="0.65" stroke-width="0.6"/>
<line x1="799.64" y1="454.58" x2="808.77" y2="453.37" stroke="#fff" stroke-opacity="0.65" stroke-width="0.5"/>
<line x1="825.01" y1="443.22" x2="835.15" y2="442.20" stroke="#fff" stroke-opacity="0.65" stroke-width="0.7"/>
<line x1="826.02" y1="452.86" x2="836.17" y2="452.15" stroke="#fff" stroke-opacity="0.65" stroke-width="0.6"/>
<line x1="798.63" y1="458.44" x2="815.88" y2="455.90" stroke="#fff" stroke-opacity="0.65" stroke-width="0.5"/>
<line x1="762.10" y1="447.48" x2="781.38" y2="443.22" stroke="#fff" stroke-opacity="0.6" stroke-width="0.5"/>
<line x1="764.64" y1="449.51" x2="783.41" y2="445.25" stroke="#fff" stroke-opacity="0.6" stroke-width="0.45"/>
<line x1="765.15" y1="452.55" x2="785.44" y2="447.78" stroke="#fff" stroke-opacity="0.6" stroke-width="0.5"/>
<line x1="764.13" y1="455.60" x2="780.37" y2="451.84" stroke="#fff" stroke-opacity="0.6" stroke-width="0.45"/>
<line x1="783.41" y1="454.18" x2="799.64" y2="450.52" stroke="#fff" stroke-opacity="0.6" stroke-width="0.4"/>
<line x1="788.48" y1="448.29" x2="799.64" y2="445.86" stroke="#fff" stroke-opacity="0.6" stroke-width="0.4"/>
<line x1="811.82" y1="449.81" x2="826.02" y2="448.60" stroke="#fff" stroke-opacity="0.6" stroke-width="0.5"/>
<line x1="807.76" y1="440.18" x2="819.94" y2="438.75" stroke="#fff" stroke-opacity="0.6" stroke-width="0.4"/>
<line x1="815.88" y1="453.87" x2="836.17" y2="453.16" stroke="#fff" stroke-opacity="0.6" stroke-width="0.5"/>
<line x1="830.08" y1="439.16" x2="834.65" y2="438.65" stroke="#fff" stroke-opacity="0.6" stroke-width="0.8"/>
<line x1="830.59" y1="446.26" x2="836.17" y2="445.86" stroke="#fff" stroke-opacity="0.6" stroke-width="0.9"/>
</g>
<polygon points="783.40,444.70 784.99,449.32 789.87,449.40 785.97,452.33 787.40,457.00 783.40,454.20 779.40,457.00 780.83,452.33 776.93,449.40 781.81,449.32" fill="#ffd20f"/>
<g fill="#e9c52a">
<polygon points="812.33,436.70 812.68,437.66 813.70,437.70 812.90,438.33 813.18,439.32 812.33,438.75 811.47,439.32 811.75,438.33 810.95,437.70 811.97,437.66"/>
<polygon points="818.72,434.97 819.07,435.94 820.10,435.97 819.29,436.61 819.57,437.59 818.72,437.02 817.87,437.59 818.15,436.61 817.34,435.97 818.36,435.94"/>
<polygon points="824.50,435.68 824.85,436.65 825.88,436.68 825.07,437.32 825.35,438.30 824.50,437.73 823.65,438.30 823.93,437.32 823.12,436.68 824.15,436.65"/>
<polygon points="827.85,438.73 828.20,439.69 829.23,439.73 828.42,440.36 828.70,441.35 827.85,440.78 827.00,441.35 827.28,440.36 826.47,439.73 827.50,439.69"/>
<polygon points="828.56,443.29 828.91,444.26 829.94,444.29 829.13,444.93 829.41,445.91 828.56,445.34 827.71,445.91 827.99,444.93 827.18,444.29 828.21,444.26"/>
<polygon points="825.52,448.36 825.87,449.33 826.89,449.37 826.09,450.00 826.37,450.99 825.52,450.41 824.66,450.99 824.94,450.00 824.14,449.37 825.16,449.33"/>
<polygon points="819.94,453.13 820.29,454.10 821.31,454.13 820.51,454.77 820.79,455.76 819.94,455.18 819.08,455.76 819.36,454.77 818.56,454.13 819.58,454.10"/>
<polygon points="813.34,455.16 813.69,456.13 814.72,456.16 813.91,456.80 814.19,457.79 813.34,457.21 812.49,457.79 812.77,456.80 811.96,456.16 812.99,456.13"/>
<polygon points="807.76,454.15 808.11,455.11 809.14,455.15 808.33,455.78 808.61,456.77 807.76,456.20 806.91,456.77 807.19,455.78 806.38,455.15 807.41,455.11"/>
<polygon points="804.01,451.41 804.36,452.37 805.38,452.41 804.58,453.04 804.86,454.03 804.01,453.46 803.15,454.03 803.44,453.04 802.63,452.41 803.65,452.37"/>
<polygon points="803.50,446.33 803.85,447.30 804.88,447.34 804.07,447.97 804.35,448.96 803.50,448.38 802.65,448.96 802.93,447.97 802.12,447.34 803.15,447.30"/>
<polygon points="806.75,441.26 807.10,442.23 808.12,442.26 807.32,442.90 807.60,443.88 806.75,443.31 805.89,443.88 806.17,442.90 805.37,442.26 806.39,442.23"/>
</g>
<text x="762.9" y="481.6" font-size="13" font-weight="bold" fill="#1a4596" stroke="#1a4596" stroke-width="0.3" textLength="72.4" lengthAdjust="spacingAndGlyphs">EUROCHAM</text>
<text x="762.8" y="486.2" font-size="3.6" font-weight="bold" fill="#2a4f9e" textLength="72.8" lengthAdjust="spacingAndGlyphs">European Chamber of Commerce in Vietnam</text>
</svg></body></html>
